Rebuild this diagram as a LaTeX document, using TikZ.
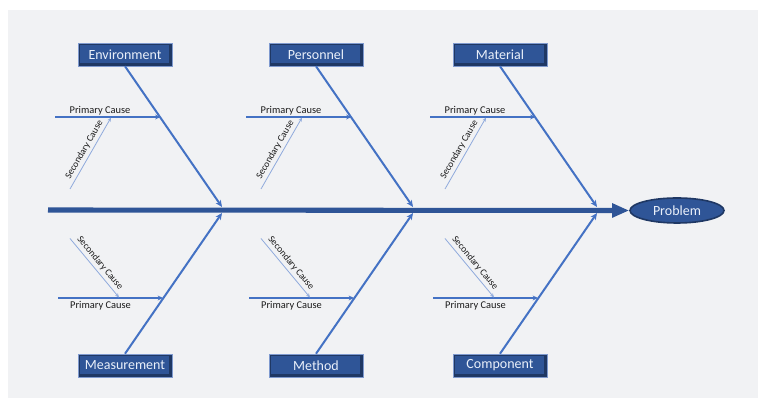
\documentclass[tikz,border=0pt]{standalone}
\usepackage{fontspec}
\setmainfont{Carlito}
\usetikzlibrary{shapes.geometric,arrows.meta}
\definecolor{bgc}{HTML}{F1F2F4}
\definecolor{boxface}{HTML}{2F5597}
\definecolor{boxdark}{HTML}{1F3864}
\definecolor{boxedge}{HTML}{7F9ACF}
\definecolor{bone}{HTML}{4472C4}
\definecolor{spinec}{HTML}{2F5597}
\definecolor{secc}{HTML}{8FAADC}
\definecolor{boxtext}{HTML}{EAF0FA}
\definecolor{labtext}{HTML}{1A1A1A}
\begin{document}
\begin{tikzpicture}[x=0.75pt,y=-0.75pt,
  catbox/.style={rectangle, minimum width=70.5pt, minimum height=17.25pt, inner sep=0pt,
    fill=boxdark, draw=boxedge, line width=0.4pt, text=boxtext,
    font=\fontsize{10.5}{12}\selectfont,
    path picture={\fill[boxface] ([xshift=1.2pt,yshift=2.4pt]path picture bounding box.south west)
      rectangle ([xshift=-2.4pt,yshift=-1.2pt]path picture bounding box.north east);}},
  probnode/.style={ellipse, minimum width=70.5pt, minimum height=18.75pt, inner sep=0pt,
    fill=boxface, draw=boxdark, line width=1.2pt, text=boxtext,
    font=\fontsize{10.5}{12}\selectfont},
  spine/.style={draw=spinec, line width=3.8pt, -{Triangle[length=12.75pt,width=10pt]}},
  diag/.style={draw=bone, line width=1.5pt, -{Stealth[length=5pt,width=4.5pt]}},
  prim/.style={draw=bone, line width=1.1pt, -{Stealth[length=4pt,width=3.6pt]}},
  sec/.style={draw=secc, line width=0.6pt, -{Stealth[length=3pt,width=2.6pt]}},
  primlabel/.style={inner sep=0pt, text=labtext, font=\fontsize{7.8}{9}\selectfont},
  seclabel/.style={inner sep=2pt, text=labtext, font=\fontsize{7.2}{8.5}\selectfont}
]
\useasboundingbox (0,0) rectangle (758,398);
\fill[white] (0,0) rectangle (758,398);
\fill[bgc] (8,10) rectangle (758,398);

\node[probnode] (prob) at (677,210.5) {Problem};
\coordinate (tail) at (48,210);
\draw[spine] (tail) -- (prob.west);

\foreach \dx/\topname/\toptext/\botname/\bottext in
  {0/env/Environment/meas/Measurement, 191/pers/Personnel/meth/Method, 375/mat/Material/comp/Component} {
  % top bone
  \node[catbox] (\topname) at (125+\dx,54.5) {\toptext};
  \coordinate (\topname-end) at (222+\dx,207);
  \draw[diag] (\topname.south) -- (\topname-end);
  \coordinate (\topname-p0) at (55+\dx,117);
  \coordinate (\topname-p1) at (160.5+\dx,117);
  \draw[prim] (\topname-p0) -- (\topname-p1);
  \node[primlabel] (\topname-pl) at (100+\dx,110.5) {Primary Cause};
  \coordinate (\topname-s0) at (70+\dx,189);
  \coordinate (\topname-s1) at (111+\dx,117.6);
  \draw[sec] (\topname-s0) -- node[seclabel, sloped, above] (\topname-sl) {Secondary Cause} (\topname-s1);
  % bottom bone
  \node[catbox] (\botname) at (125+\dx,365.5) {\bottext};
  \coordinate (\botname-end) at (222+\dx,213);
  \draw[diag] (\botname.north) -- (\botname-end);
  \coordinate (\botname-p0) at (58+\dx,298);
  \coordinate (\botname-p1) at (163+\dx,298);
  \draw[prim] (\botname-p0) -- (\botname-p1);
  \node[primlabel] (\botname-pl) at (100.5+\dx,305.5) {Primary Cause};
  \coordinate (\botname-s0) at (70+\dx,238.5);
  \coordinate (\botname-s1) at (119+\dx,297.4);
  \draw[sec] (\botname-s0) -- node[seclabel, sloped, above] (\botname-sl) {Secondary Cause} (\botname-s1);
}
\end{tikzpicture}
\end{document}
